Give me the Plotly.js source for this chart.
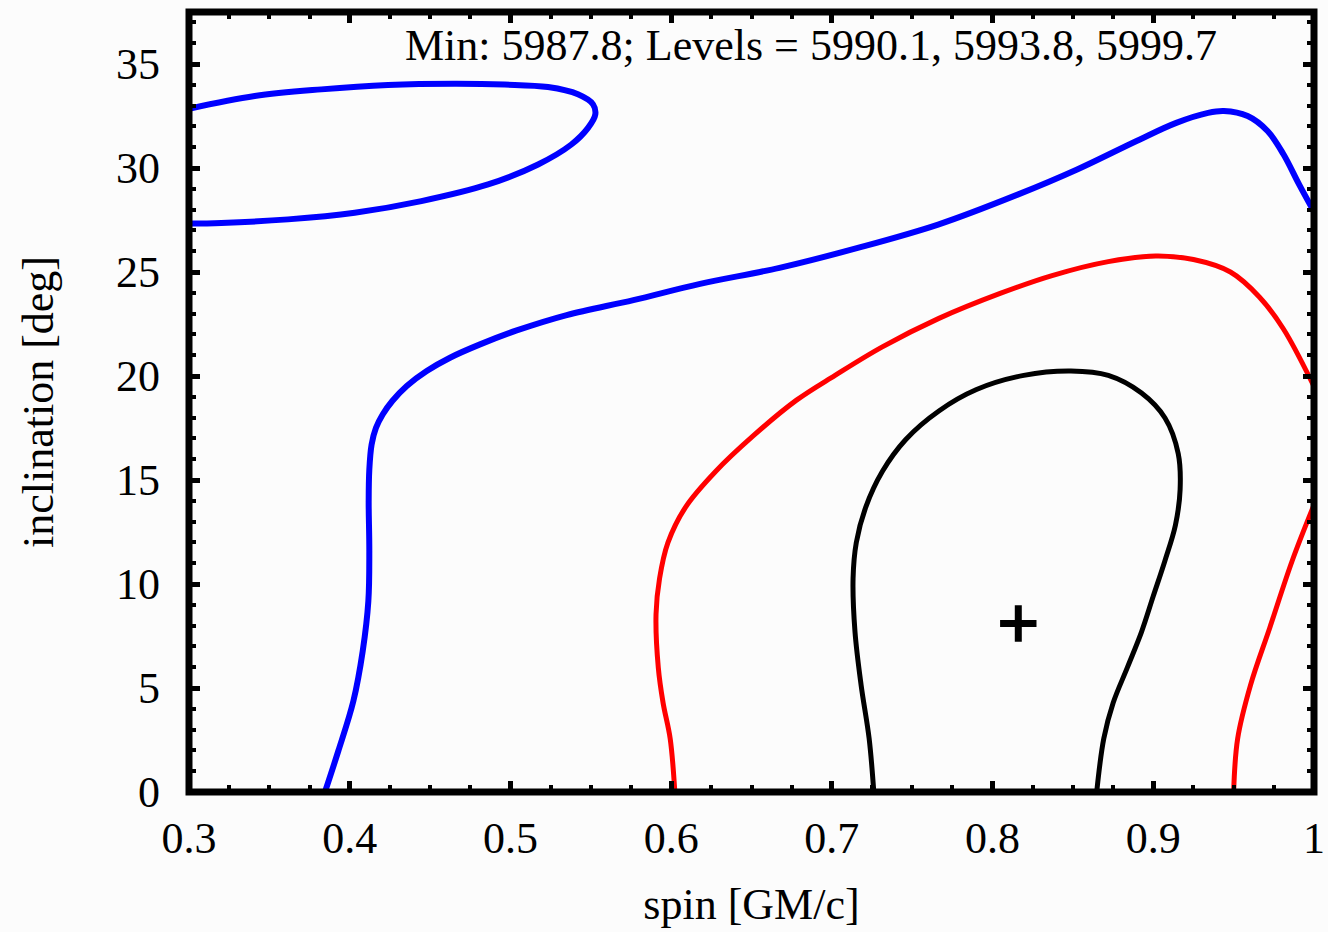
<!DOCTYPE html>
<html>
<head>
<meta charset="utf-8">
<script src="https://cdn.plot.ly/plotly-3.0.1.min.js"></script>
<style>html,body{margin:0;padding:0;background:#fcfcfc;}#chart{width:1328px;height:932px;}</style>
</head>
<body>
<div id="chart"></div>
<script>
// Outer blue contour (level 5999.7), main branch
const blueMainX = [0.3846, 0.3929, 0.4023, 0.4081, 0.4116, 0.4122, 0.4118, 0.4122, 0.4136, 0.4163, 0.4205, 0.4265, 0.4355, 0.4479, 0.4624, 0.4811, 0.5039, 0.535, 0.5765, 0.618, 0.6674, 0.7167, 0.7661, 0.8156, 0.8526, 0.8896, 0.9143, 0.9341, 0.9439, 0.9587, 0.9711, 0.981, 0.9908, 1.0];
const blueMainY = [0, 1.97, 4.38, 6.78, 9.18, 11.59, 13.99, 15.5, 16.7, 17.5, 18.15, 18.8, 19.52, 20.24, 20.88, 21.52, 22.19, 22.93, 23.65, 24.43, 25.2, 26.17, 27.28, 28.72, 29.93, 31.3, 32.17, 32.65, 32.74, 32.5, 31.78, 30.66, 29.2, 27.9];
// Blue contour, upper-left island
const blueIslandX = [0.3, 0.3409, 0.3823, 0.4238, 0.4653, 0.4964, 0.5234, 0.542, 0.5514, 0.5528, 0.5483, 0.5379, 0.5172, 0.4861, 0.4446, 0.4031, 0.3616, 0.3201, 0.3];
const blueIslandY = [32.85, 33.46, 33.78, 33.99, 34.05, 34.01, 33.89, 33.54, 33.06, 32.57, 31.93, 31.13, 30.17, 29.21, 28.41, 27.85, 27.53, 27.36, 27.33];
// Red contour (level 5993.8)
const redMainX = [0.6023, 0.5994, 0.595, 0.592, 0.5906, 0.5928, 0.598, 0.609, 0.6275, 0.651, 0.678, 0.702, 0.7314, 0.7666, 0.8047, 0.837, 0.872, 0.9015, 0.925, 0.948, 0.966, 0.981, 1.0];
const redMainY = [0, 2.57, 4.28, 5.99, 8.56, 10.27, 11.99, 13.7, 15.4, 17.12, 18.84, 20.03, 21.4, 22.77, 23.97, 24.83, 25.5, 25.77, 25.6, 25.0, 23.8, 22.26, 19.5];
const redRightX = [1.0, 0.9865, 0.9725, 0.9605, 0.9525, 0.95];
const redRightY = [13.8, 11.13, 7.9, 5.14, 2.57, 0];
// Black contour (level 5990.1)
const blackX = [0.7261, 0.7232, 0.7182, 0.7144, 0.7132, 0.7152, 0.7211, 0.7314, 0.746, 0.7666, 0.79, 0.8194, 0.8487, 0.872, 0.8927, 0.9073, 0.9155, 0.9167, 0.9138, 0.9073, 0.9, 0.8927, 0.8839, 0.875, 0.8692, 0.8648];
const blackY = [0, 2.57, 5.14, 7.7, 10.27, 11.99, 13.7, 15.41, 16.95, 18.32, 19.35, 20.03, 20.24, 20.03, 19.18, 17.98, 16.27, 14.55, 12.84, 11.13, 9.42, 7.7, 5.99, 4.28, 2.57, 0];
// Best-fit point
const bestX = [0.816];
const bestY = [8.1];
const xTickVals = [0.3, 0.4, 0.5, 0.6, 0.7, 0.8, 0.9, 1.0];
const xTickText = ['0.3', '0.4', '0.5', '0.6', '0.7', '0.8', '0.9', '1'];
const yTickVals = [0, 5, 10, 15, 20, 25, 30, 35];
const yTickText = ['0', '5', '10', '15', '20', '25', '30', '35'];
const annotationText = 'Min: 5987.8; Levels = 5990.1, 5993.8, 5999.7';

const FONT = 'Liberation Serif, Times New Roman, serif';
const FS = 44;
function line(x, y, color, w) {
  return {x: x, y: y, type: 'scatter', mode: 'lines', hoverinfo: 'skip',
          line: {color: color, width: w, shape: 'spline', smoothing: 1}};
}
const traces = [
  line(blueMainX, blueMainY, '#0000ff', 6),
  line(blueIslandX, blueIslandY, '#0000ff', 6),
  line(redMainX, redMainY, '#ff0000', 5),
  line(redRightX, redRightY, '#ff0000', 5),
  line(blackX, blackY, '#000000', 5),
  {x: bestX, y: bestY, type: 'scatter', mode: 'markers', hoverinfo: 'skip',
   marker: {symbol: 'cross-thin', size: 26, line: {color: '#000', width: 7}}}
];
const axisCommon = {
  showgrid: false, zeroline: false, showline: false, mirror: 'ticks',
  ticks: 'inside', ticklen: 11, tickwidth: 5, tickcolor: '#000',
  tickfont: {family: FONT, size: FS, color: '#000'},
  minor: {ticks: 'inside', ticklen: 7, tickwidth: 4, tickcolor: '#000', showgrid: false}
};
const layout = {
  width: 1328, height: 932,
  margin: {l: 189, r: 14, t: 12, b: 140},
  paper_bgcolor: '#fcfcfc', plot_bgcolor: '#fcfcfc',
  showlegend: false,
  font: {family: FONT, color: '#000'},
  xaxis: Object.assign({}, axisCommon, {
    range: [0.3, 1.0], tickvals: xTickVals, ticktext: xTickText,
    minor: Object.assign({}, axisCommon.minor, {dtick: 0.025, tick0: 0.3}),
    ticklabelstandoff: 16,
    title: {text: 'spin [GM/c]', font: {family: FONT, size: FS, color: '#000'}, standoff: 26}
  }),
  yaxis: Object.assign({}, axisCommon, {
    range: [0, 37.5], tickvals: yTickVals, ticktext: yTickText,
    minor: Object.assign({}, axisCommon.minor, {dtick: 1, tick0: 0}),
    ticklabelstandoff: 28,
    title: {text: 'inclination [deg]', font: {family: FONT, size: FS, color: '#000'}, standoff: 48}
  }),
  shapes: [{type: 'rect', xref: 'paper', yref: 'paper', x0: 0, x1: 1, y0: 0, y1: 1,
            line: {color: '#000', width: 7}, layer: 'above'}],
  annotations: [{xref: 'paper', yref: 'paper', x: 0.553, y: 0.957, xanchor: 'center', yanchor: 'middle',
                 text: annotationText, showarrow: false, font: {family: FONT, size: FS, color: '#000'}}]
};
Plotly.newPlot('chart', traces, layout, {staticPlot: true, displayModeBar: false});
</script>
</body>
</html>
